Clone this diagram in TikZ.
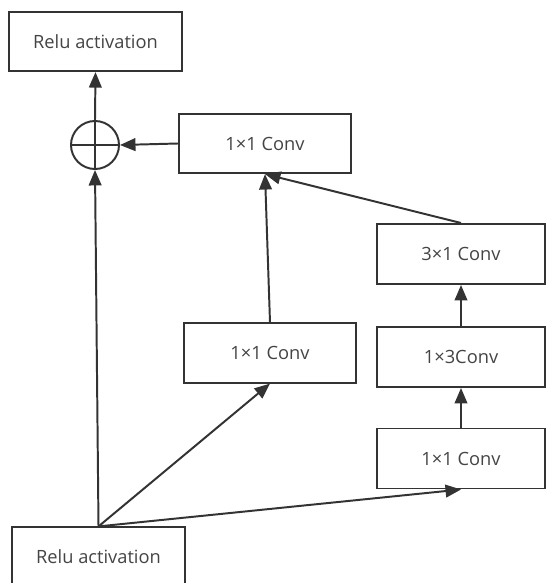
\documentclass[tikz,border=0pt]{standalone}
\usepackage{fontspec}
\setmainfont{Open Sans}
\usetikzlibrary{arrows.meta}

\definecolor{linegray}{HTML}{333333}
\definecolor{textgray}{HTML}{444444}

\begin{document}
\begin{tikzpicture}[x=0.025cm, y=-0.025cm,
    box/.style={draw=linegray, line width=1.4pt, text=textgray, font=\fontsize{13}{15}\selectfont,
        minimum width=4.3cm, minimum height=1.48cm, inner sep=0pt},
    rbox/.style={box, minimum width=4.2cm, minimum height=1.5cm},
    arr/.style={draw=linegray, line width=1.4pt, -{Triangle[length=11pt,width=9pt]}}]
    \useasboundingbox (0,0) rectangle (548,583);
    % nodes
    \node[box] (reluout) at (95.5,41.5) {Relu activation};
    \node[draw=linegray, line width=1.4pt, circle, minimum size=1.2cm, inner sep=0pt] (plus) at (95,145) {};
    \draw[linegray, line width=1.4pt] (plus.north) -- (plus.south) (plus.west) -- (plus.east);
    \node[box] (convtop) at (265,143.5) {1×1 Conv};
    \node[rbox] (conv31) at (461,254) {3×1 Conv};
    \node[box] (convmid) at (270,353) {1×1 Conv};
    \node[rbox] (conv13) at (461,357) {1×3Conv};
    \node[rbox] (convbr) at (461,458.5) {1×1 Conv};
    \node[box] (reluin) at (98.5,557) {Relu activation};
    % arrows
    \draw[arr] (plus.north) -- (reluout.south);
    \draw[arr] (reluin.north) -- (plus.south);
    \draw[arr] (reluin.north) -- (convmid.south);
    \draw[arr] (reluin.north) -- (convbr.south);
    \draw[arr] (convbr.north) -- (conv13.south);
    \draw[arr] (conv13.north) -- (conv31.south);
    \draw[arr] (conv31.north) -- (convtop.south);
    \draw[arr] (convmid.north) -- (convtop.south);
    \draw[arr] (convtop.west) -- (plus.east);
\end{tikzpicture}
\end{document}
